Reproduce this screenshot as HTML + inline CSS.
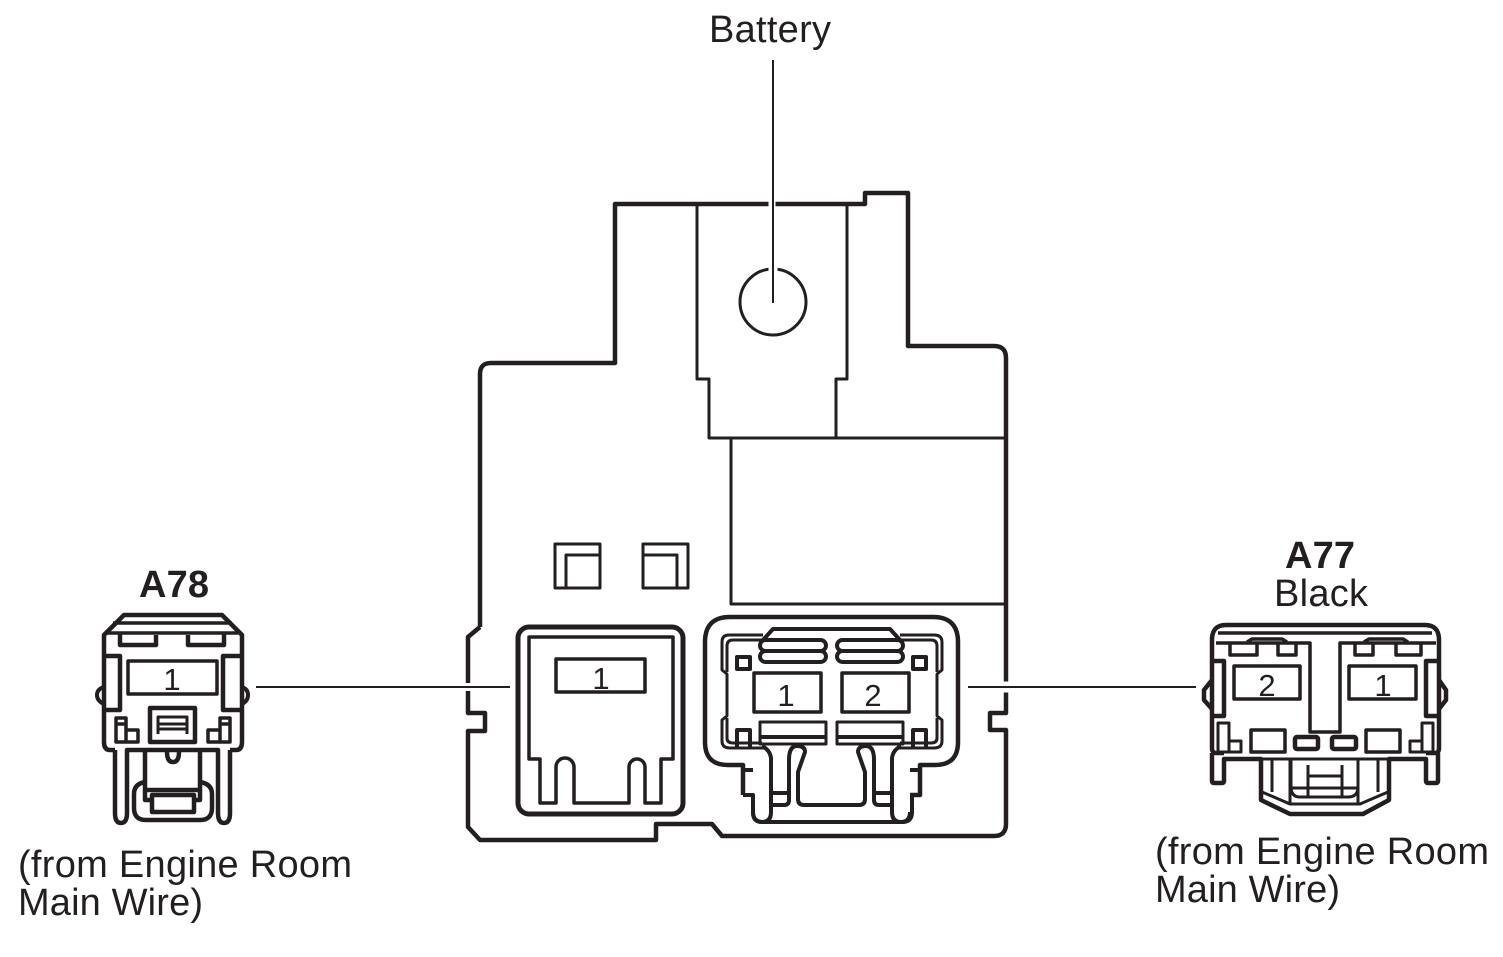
<!DOCTYPE html>
<html><head><meta charset="utf-8"><style>
html,body{margin:0;padding:0;background:#fff;width:1503px;height:957px;overflow:hidden}
svg{display:block}
text{font-family:"Liberation Sans",sans-serif;fill:#231f20}
.t{font-size:38px}
.b{font-size:38px;font-weight:bold}
.n{font-size:31px}
</style></head><body>
<svg width="1503" height="957" viewBox="0 0 1503 957" fill="none" stroke="#231f20" stroke-linejoin="round">
<!-- main outline -->
<path stroke-width="4.5" d="M480,627V374Q480,363 491,363H615V204H865V193H908V346H994Q1006,346 1006,358V604"/>
<path stroke-width="4.5" d="M1006,604V713H990V730H1006V824Q1006,836 994,836H722L712,824H656V840H480L468,827V731H485V713H468V637L480,627"/>
<!-- inner -->
<g stroke-width="3">
<path d="M697,204V379H709V438H1006M847,204V379H836V438M731,438V604H1006"/>
<circle cx="773" cy="302" r="33"/>
<path d="M555,544H600V588H555ZM566,588V555H600"/>
<path d="M643,544H688V588H643ZM677,588V555H643"/>
</g>
<!-- leaders gaps -->
<g stroke="#fff" stroke-width="7">
<path d="M772,198V210"/>
<path d="M773,265V272" stroke-width="9"/>
<path d="M462,687H486" stroke-width="8"/>
<path d="M1000,687H1012" stroke-width="11"/>
</g>
<g stroke-width="2">
<path d="M773,60V303"/>
<path d="M256,687H510"/>
<path d="M968,687H1196"/>
</g>
<!-- connector 1 center -->
<rect x="518" y="627" width="165" height="187" rx="11" stroke-width="5"/>
<path stroke-width="3.5" d="M529,637H673V759H661V803H645V767A8,8 0 0 0 629,767V803H574V767A9,9 0 0 0 556,767V803H540V759H529Z"/>
<rect x="556" y="659" width="89" height="33" stroke-width="3.5"/>
<!-- connector 2 center -->
<g stroke-width="4">
<path stroke-width="4.5" d="M743,795V765H728Q705,765 705,742V642Q705,617 730,617H933Q958,617 958,642V742Q958,765 935,765H920V795H910"/>
<path d="M743,770H753M743,795H753V812Q753,822 763,822H902Q912,822 912,812V795M910,770H920"/>
<path d="M763,640L773,629H890L900,640"/>
<path stroke-width="3" d="M763,635H729Q722,635 722,642V670L727,674V716L722,720V741Q722,748 730,748H765M900,635H934Q942,635 942,642V670L937,674V716L942,720V741Q942,748 934,748H898"/>
<path stroke-width="3" d="M763,640H733Q727,640 727,646V672M727,718V738Q727,743 733,743H762M900,640H931Q937,640 937,646V672M937,718V738Q937,743 931,743H900"/>
<rect x="760" y="640" width="66" height="11" rx="5.5"/>
<rect x="760" y="651" width="66" height="11" rx="5.5"/>
<rect x="837" y="640" width="66" height="11" rx="5.5"/>
<rect x="837" y="651" width="66" height="11" rx="5.5"/>
<rect x="737" y="657" width="13" height="12"/>
<rect x="913" y="657" width="13" height="12"/>
<path d="M737,748V730H750V748M913,748V730H926V748"/>
<rect x="754" y="673" width="67" height="39" stroke-width="3.5"/>
<rect x="842" y="673" width="67" height="39" stroke-width="3.5"/>
<rect x="760" y="722" width="66" height="22" stroke-width="3"/>
<rect x="837" y="722" width="66" height="22" stroke-width="3"/>
<path d="M760,737H826M837,737H903"/>
<path d="M762,746Q770,750 771,758V812Q771,822 762,822Q753,822 753,812"/>
<path d="M901,746Q893,750 892,758V812Q892,822 901,822Q910,822 910,812"/>
<path d="M771,793H788M771,805H784Q789,805 789,800V760Q789,746 797,746Q805,746 805,752L798,772V799Q798,805 804,805H859Q865,805 865,799V772L858,752Q858,746 866,746Q874,746 874,760V800Q874,805 879,805H892M875,793H892"/>
</g>
<!-- A78 -->
<g stroke-width="4.5">
<path d="M115,750H110Q104,750 104,742V635L124,615H222L242,635V742Q242,750 236,750H230"/>
<path d="M115,750V813Q115,823 121,823Q127,823 127,813V750H218V813Q218,823 224,823Q230,823 230,813V750" />
<path stroke-width="3.5" d="M113,623H232M107,633H238"/>
<path d="M120,633V645H156V635M188,635V645H224V633"/>
<path d="M104,656H120V710H104M242,656H223V710H242"/>
<path stroke-width="4" d="M104,687Q97,689 97,695Q97,701 104,704M242,687Q248,689 248,695Q248,701 242,704"/>
<rect x="128" y="661" width="89" height="33" stroke-width="3.5"/>
<rect x="150" y="708" width="45" height="34"/>
<path stroke-width="3" d="M158,734V717H187V734M158,724H187M158,729H187"/>
<path stroke-width="3.5" d="M116,718H126V742H116ZM126,730H138V742H126ZM116,724H126M230,718H220V742H230ZM220,730H208V742H220ZM230,724H220"/>
<path d="M145,750V790H200V750M167,752Q167,762 173,762Q179,762 179,752"/>
<path d="M145,782Q134,784 134,794V808Q134,820 146,820H200Q212,820 212,808V794Q212,784 200,782"/>
<path d="M145,790V800H152M200,790V800H194"/>
<rect x="152" y="795" width="42" height="17"/>
</g>
<!-- A77 -->
<g stroke-width="4.5">
<path d="M1224,753H1216Q1212,753 1212,748V640Q1212,625 1226,625H1425Q1439,625 1439,640V748Q1439,753 1435,753H1426"/>
<path stroke-width="3.5" d="M1218,633H1432M1216,643H1310V732H1340V643H1436"/>
<path stroke-width="3.5" d="M1230,643V655H1257V643M1278,643V655H1296V643M1355,643V655H1373V643M1396,643V655H1421V643M1247,642L1252,639H1282L1287,642M1364,642L1369,639H1403L1408,642"/>
<path d="M1214,661H1224V716H1212M1437,661H1426V716H1439"/>
<path d="M1212,680L1204,690V700L1212,709M1439,680L1446,690V700L1439,709"/>
<rect x="1234" y="666" width="66" height="33" stroke-width="3.5"/>
<rect x="1349" y="666" width="67" height="33" stroke-width="3.5"/>
<path stroke-width="3" d="M1218,723H1229V752H1218ZM1229,741H1241V752H1229ZM1433,723H1422V752H1433ZM1422,741H1410V752H1422Z"/>
<rect x="1251" y="730" width="34" height="22" stroke-width="3.5"/>
<rect x="1366" y="730" width="34" height="22" stroke-width="3.5"/>
<rect x="1295" y="737" width="23" height="12" rx="2"/>
<rect x="1332" y="737" width="24" height="12" rx="2"/>
<path d="M1212,753V781Q1212,783 1214,783H1222Q1224,783 1224,781V759H1261V800L1290,814H1363L1389,800V759H1426V781Q1426,783 1428,783H1436Q1438,783 1438,781V753"/>
<path stroke-width="3" d="M1261,759H1389M1272,759V792M1290,759V804M1358,759V804M1378,759V792M1262,792L1290,804H1360L1388,792"/>
<path stroke-width="3" d="M1291,759V787Q1291,797 1300,797H1348Q1358,797 1358,787V759M1308,765V797M1342,765V797M1308,776H1342M1292,788H1358"/>
</g>
<!-- text -->
<g stroke="none">
<text class="t" x="709" y="42" textLength="122">Battery</text>
<text class="b" x="139" y="597" textLength="70">A78</text>
<text class="b" x="1285" y="568" textLength="70">A77</text>
<text class="t" x="1274" y="606" textLength="94">Black</text>
<text class="t" x="18" y="877" textLength="334">(from Engine Room</text>
<text class="t" x="18" y="915" textLength="185">Main Wire)</text>
<text class="t" x="1155" y="864" textLength="334">(from Engine Room</text>
<text class="t" x="1155" y="902" textLength="185">Main Wire)</text>
<text class="n" x="172" y="690" text-anchor="middle">1</text>
<text class="n" x="601" y="689" text-anchor="middle">1</text>
<text class="n" x="786" y="706" text-anchor="middle">1</text>
<text class="n" x="873" y="706" text-anchor="middle">2</text>
<text class="n" x="1267" y="696" text-anchor="middle">2</text>
<text class="n" x="1383" y="696" text-anchor="middle">1</text>
</g>
</svg>
</body></html>
